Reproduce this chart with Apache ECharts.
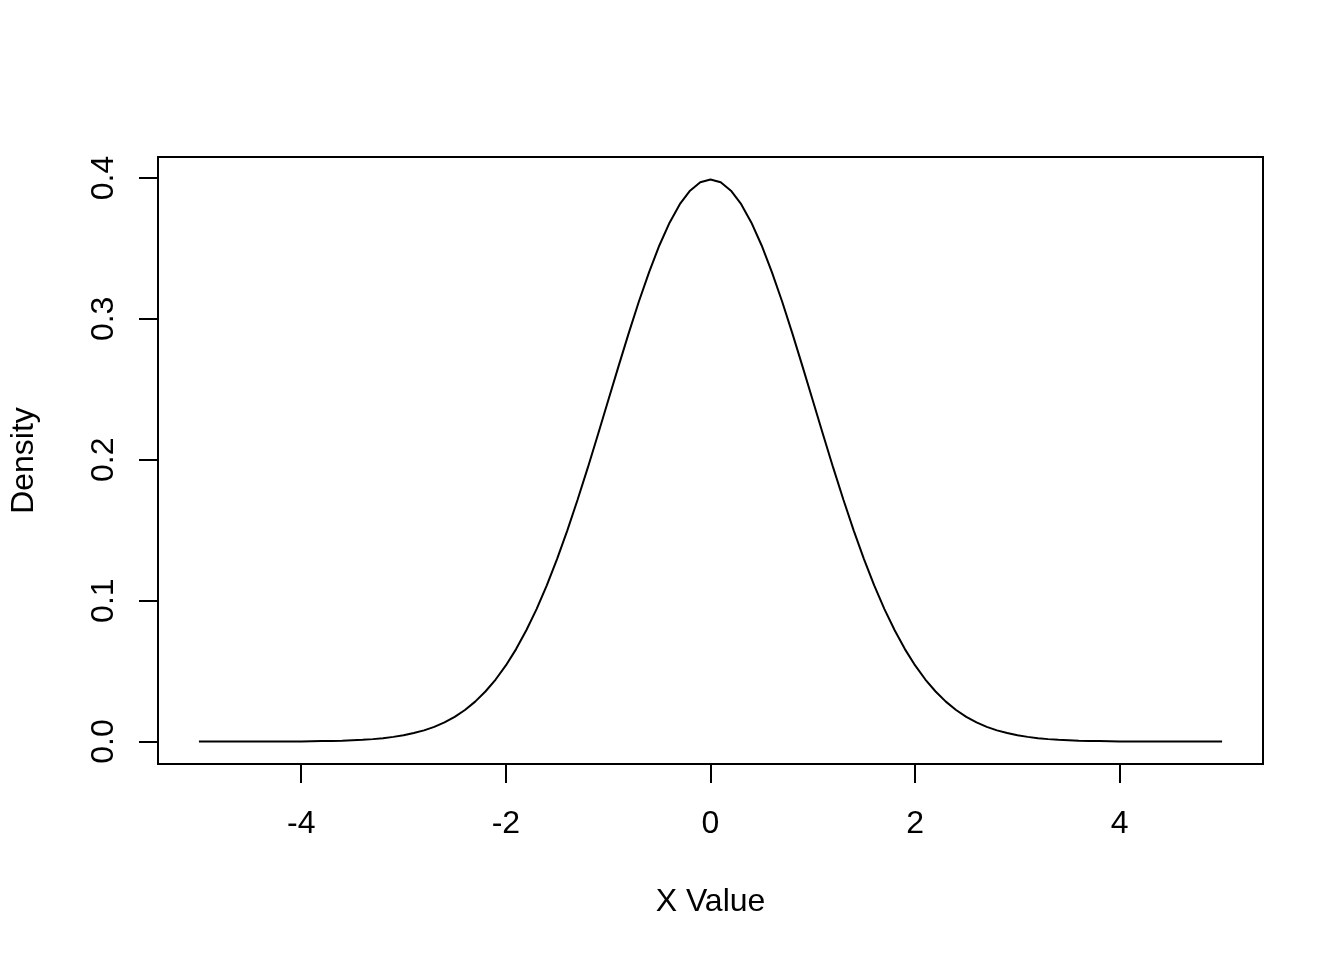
<!DOCTYPE html>
<html>
<head>
<meta charset="utf-8">
<script src="https://cdn.jsdelivr.net/npm/echarts@6/dist/echarts.min.js"></script>
<style>html,body{margin:0;padding:0;background:#fff}#c{width:1344px;height:960px}</style>
</head>
<body>
<div id="c"></div>
<script>
const xValues = [
-5.0,-4.9,-4.8,-4.7,-4.6,-4.5,-4.4,-4.3,-4.2,-4.1,
-4.0,-3.9,-3.8,-3.7,-3.6,-3.5,-3.4,-3.3,-3.2,-3.1,
-3.0,-2.9,-2.8,-2.7,-2.6,-2.5,-2.4,-2.3,-2.2,-2.1,
-2.0,-1.9,-1.8,-1.7,-1.6,-1.5,-1.4,-1.3,-1.2,-1.1,
-1.0,-0.9,-0.8,-0.7,-0.6,-0.5,-0.4,-0.3,-0.2,-0.1,
0.0,
0.1,0.2,0.3,0.4,0.5,0.6,0.7,0.8,0.9,1.0,
1.1,1.2,1.3,1.4,1.5,1.6,1.7,1.8,1.9,2.0,
2.1,2.2,2.3,2.4,2.5,2.6,2.7,2.8,2.9,3.0,
3.1,3.2,3.3,3.4,3.5,3.6,3.7,3.8,3.9,4.0,
4.1,4.2,4.3,4.4,4.5,4.6,4.7,4.8,4.9,5.0
];
const density = [
0.0000,0.0000,0.0000,0.0000,0.0000,0.0000,0.0000,0.0000,0.0001,0.0001,
0.0001,0.0002,0.0003,0.0004,0.0006,0.0009,0.0012,0.0017,0.0024,0.0033,
0.0044,0.0060,0.0079,0.0104,0.0136,0.0175,0.0224,0.0283,0.0355,0.0440,
0.0540,0.0656,0.0790,0.0940,0.1109,0.1295,0.1497,0.1714,0.1942,0.2179,
0.2420,0.2661,0.2897,0.3123,0.3332,0.3521,0.3683,0.3814,0.3910,0.3970,
0.3989,
0.3970,0.3910,0.3814,0.3683,0.3521,0.3332,0.3123,0.2897,0.2661,0.2420,
0.2179,0.1942,0.1714,0.1497,0.1295,0.1109,0.0940,0.0790,0.0656,0.0540,
0.0440,0.0355,0.0283,0.0224,0.0175,0.0136,0.0104,0.0079,0.0060,0.0044,
0.0033,0.0024,0.0017,0.0012,0.0009,0.0006,0.0004,0.0003,0.0002,0.0001,
0.0001,0.0001,0.0000,0.0000,0.0000,0.0000,0.0000,0.0000,0.0000,0.0000
];
const xTicks = [-4, -2, 0, 2, 4];
const yTicks = [0.0, 0.1, 0.2, 0.3, 0.4];
const xLabel = 'X Value';
const yLabel = 'Density';

const FONT = 'Liberation Sans, Arial, sans-serif';
const chart = echarts.init(document.getElementById('c'), null, {renderer: 'canvas'});
chart.setOption({
  animation: false,
  backgroundColor: '#ffffff',
  grid: {left: 157, top: 157, right: 81, bottom: 196, show: true, borderColor: '#000', borderWidth: 2, backgroundColor: 'transparent'},
  xAxis: {
    type: 'value', min: -5.4, max: 5.4,
    name: xLabel, nameLocation: 'middle', nameGap: 122,
    nameTextStyle: {color: '#000', fontSize: 32, fontFamily: FONT},
    axisLine: {show: true, onZero: false, lineStyle: {color: '#000', width: 2}},
    axisTick: {show: true, customValues: xTicks, length: 19, lineStyle: {color: '#000', width: 2}},
    axisLabel: {customValues: xTicks, color: '#000', fontSize: 32, fontFamily: FONT, margin: 44, formatter: v => String(v)},
    splitLine: {show: false}
  },
  yAxis: {
    type: 'value', min: -0.015958, max: 0.4149,
    name: yLabel, nameLocation: 'middle', nameGap: 118, nameRotate: 90,
    nameTextStyle: {color: '#000', fontSize: 32, fontFamily: FONT},
    axisLine: {show: true, onZero: false, lineStyle: {color: '#000', width: 2}},
    axisTick: {show: true, customValues: yTicks, length: 19, lineStyle: {color: '#000', width: 2}},
    axisLabel: {customValues: yTicks, color: '#000', fontSize: 32, fontFamily: FONT, margin: 38, rotate: 90, formatter: v => v.toFixed(1)},
    splitLine: {show: false}
  },
  series: [{
    type: 'line',
    data: xValues.map((x, i) => [x, density[i]]),
    showSymbol: false,
    smooth: false,
    lineStyle: {color: '#000', width: 2},
    silent: true
  }]
});
</script>
</body>
</html>
